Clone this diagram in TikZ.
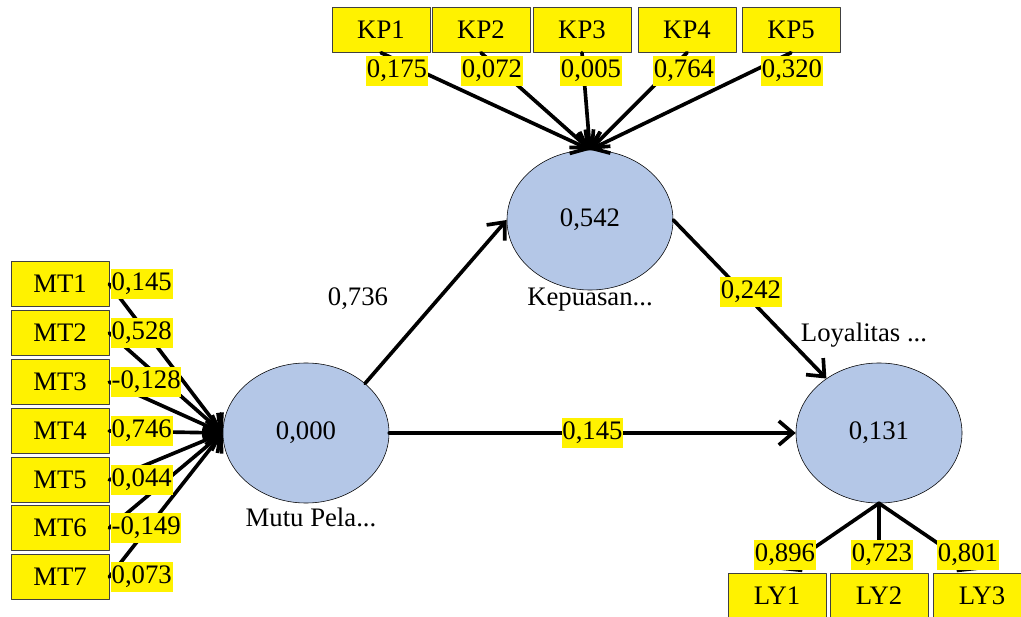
\documentclass[tikz,border=0pt]{standalone}
\usepackage{fontspec}
\setmainfont{Liberation Serif}
\usetikzlibrary{arrows.meta,positioning,shapes.geometric}
\definecolor{latent}{RGB}{180,199,231}
\begin{document}
\begin{tikzpicture}[x=0.025cm, y=-0.025cm, font=\fontsize{19}{22}\selectfont, line join=round, line cap=round, >={Straight Barb[length=10pt,width=17pt]}]
		\tikzset{ind/.style={draw=black!75, fill=yellow, minimum width=2.45cm, minimum height=1.125cm, inner sep=0pt},
			lv/.style={draw, thin, ellipse, fill=latent, minimum width=4.15cm, minimum height=3.5cm, inner sep=0pt},
			load/.style={fill=yellow, inner xsep=0.5pt, inner ysep=2pt, text height=13pt, text depth=4pt},
			conn/.style={line width=2.6pt, ->}}
		\clip (0,0) rectangle (1021,617);
		\node[lv] (MP) at (306,433) {0,000};
		\node[lv] (KEP) at (590,220) {0,542};
		\node[lv] (LOY) at (879,433) {0,131};
		\node (MPname) at (311,517) {Mutu Pela...};
		\node (KEPname) at (590,300) {Kepuasan...};
		\node (LOYname) at (864,335) {Loyalitas ...};
		\node[ind] (MT1) at (60,284) {MT1};
		\node[ind] (MT2) at (60,333) {MT2};
		\node[ind] (MT3) at (60,382) {MT3};
		\node[ind] (MT4) at (60,431) {MT4};
		\node[ind] (MT5) at (60,480) {MT5};
		\node[ind] (MT6) at (60,528) {MT6};
		\node[ind] (MT7) at (60,577) {MT7};
		\node[ind] (KP1) at (381,30) {KP1};
		\node[ind] (KP2) at (481,30) {KP2};
		\node[ind] (KP3) at (582,30) {KP3};
		\node[ind] (KP4) at (687,30) {KP4};
		\node[ind] (KP5) at (791,30) {KP5};
		\node[ind] (LY1) at (777,596) {LY1};
		\node[ind] (LY2) at (879,596) {LY2};
		\node[ind] (LY3) at (982,596) {LY3};
		\draw[conn] (MT1.east) -- (MP.west);
		\draw[conn] (MT2.east) -- (MP.west);
		\draw[conn] (MT3.east) -- (MP.west);
		\draw[conn] (MT4.east) -- (MP.west);
		\draw[conn] (MT5.east) -- (MP.west);
		\draw[conn] (MT6.east) -- (MP.west);
		\draw[conn] (MT7.east) -- (MP.west);
		\draw[conn] (KP1.south) -- (KEP.north);
		\draw[conn] (KP2.south) -- (KEP.north);
		\draw[conn] (KP3.south) -- (KEP.north);
		\draw[conn] (KP4.south) -- (KEP.north);
		\draw[conn] (KP5.south) -- (KEP.north);
		\draw[conn, shorten >=4pt] (LOY.south) -- (LY1.north);
		\draw[conn, shorten >=4pt] (LOY.south) -- (LY2.north);
		\draw[conn, shorten >=4pt] (LOY.south) -- (LY3.north);
		\draw[conn] (MP.40) -- (KEP.west);
		\draw[conn] (KEP.east) -- (LOY);
		\draw[conn] (MP.east) -- (LOY.west) node[load, pos=0.5] (b3) {0,145};
		\node (b1) at (358,299) {0,736};
		\node[load] (b2) at (751,292) {0,242};
		\node[load, right=1pt of MT1] (w1) {0,145};
		\node[load, right=1pt of MT2] (w2) {0,528};
		\node[load, right=1pt of MT3] (w3) {-0,128};
		\node[load, right=1pt of MT4] (w4) {0,746};
		\node[load, right=1pt of MT5] (w5) {0,044};
		\node[load, right=1pt of MT6] (w6) {-0,149};
		\node[load, right=1pt of MT7] (w7) {0,073};
		\node[load] (k1) at (397,71) {0,175};
		\node[load] (k2) at (492,71) {0,072};
		\node[load] (k3) at (591,71) {0,005};
		\node[load] (k4) at (684,71) {0,764};
		\node[load] (k5) at (792,71) {0,320};
		\node[load] (l1) at (785,555) {0,896};
		\node[load] (l2) at (882,555) {0,723};
		\node[load] (l3) at (968,555) {0,801};
		\end{tikzpicture}
\end{document}
